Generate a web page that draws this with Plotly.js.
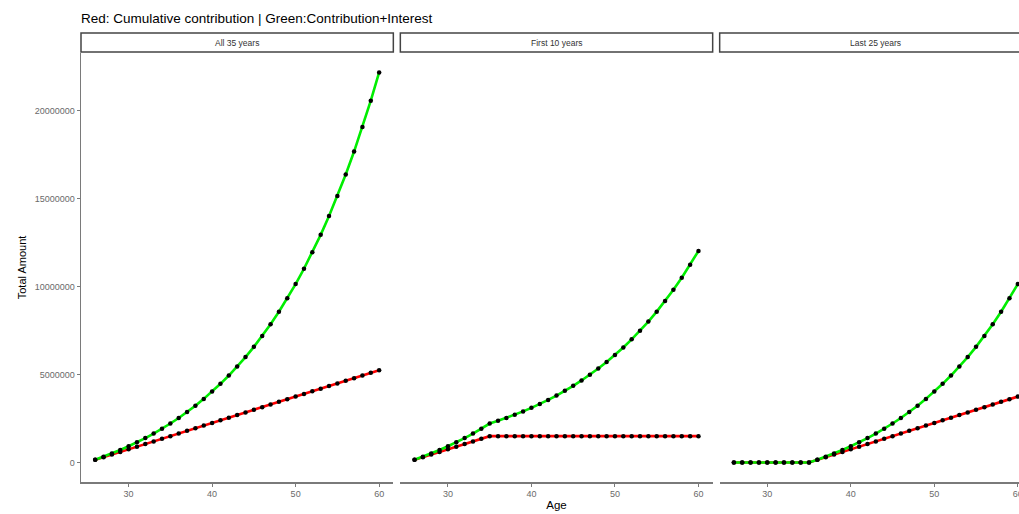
<!DOCTYPE html>
<html>
<head>
<meta charset="utf-8">
<script src="https://cdn.plot.ly/plotly-3.0.1.min.js"></script>
<style>
html, body { margin:0; padding:0; overflow:hidden; background:#fff; }
#chart { width:1040px; height:514px; }
</style>
</head>
<body>
<div id="chart"></div>
<script>
const ages = [26,27,28,29,30,31,32,33,34,35,36,37,38,39,40,41,42,43,44,45,46,47,48,49,50,51,52,53,54,55,56,57,58,59,60];
const facetLabels = ["All 35 years", "First 10 years", "Last 25 years"];

const redAll = [150000,300000,450000,600000,750000,900000,1050000,1200000,1350000,1500000,1650000,1800000,1950000,2100000,2250000,2400000,2550000,2700000,2850000,3000000,3150000,3300000,3450000,3600000,3750000,3900000,4050000,4200000,4350000,4500000,4650000,4800000,4950000,5100000,5250000];
const greenAll = [160500,332235,515992,712611,922994,1148102,1388969,1646698,1922467,2217539,2533268,2871097,3232573,3619353,4033209,4476033,4949855,5456844,5999325,6579775,7200860,7865422,8576500,9337356,10151472,11022575,11954655,12951979,14019118,15160956,16382723,17690014,19088816,20585532,22187017];

const redFirst10 = [150000,300000,450000,600000,750000,900000,1050000,1200000,1350000,1500000,1500000,1500000,1500000,1500000,1500000,1500000,1500000,1500000,1500000,1500000,1500000,1500000,1500000,1500000,1500000,1500000,1500000,1500000,1500000,1500000,1500000,1500000,1500000,1500000,1500000];
const greenFirst10 = [160500,332235,515992,712611,922994,1148102,1388969,1646698,1922467,2217539,2372767,2538860,2716581,2906741,3110214,3327928,3560882,3810144,4076854,4362234,4667592,4994324,5343926,5718000,6118261,6546539,7004795,7495131,8019792,8581175,9181857,9824589,10512310,11248172,12035544];

const redLast25 = [0,0,0,0,0,0,0,0,0,0,150000,300000,450000,600000,750000,900000,1050000,1200000,1350000,1500000,1650000,1800000,1950000,2100000,2250000,2400000,2550000,2700000,2850000,3000000,3150000,3300000,3450000,3600000,3750000];
const greenLast25 = [0,0,0,0,0,0,0,0,0,0,160500,332235,515992,712611,922994,1148102,1388969,1646698,1922467,2217539,2533268,2871097,3232573,3619353,4033209,4476033,4949855,5456844,5999325,6579775,7200860,7865422,8576500,9337356,10151472];

const yTicks = [0,5000000,10000000,15000000,20000000];
const xTicks = [30,40,50,60];

const facets = [
  {red: redAll, green: greenAll},
  {red: redFirst10, green: greenFirst10},
  {red: redLast25, green: greenLast25}
];

const plotW = 951, gap = 7;
const pw = (plotW - 2*gap)/3;
const domains = [0,1,2].map(i => [(i*(pw+gap))/plotW, (i*(pw+gap)+pw)/plotW]);
const panelH = 429, stripH = 20;

const traces = [];
facets.forEach((f, i) => {
  const xa = i === 0 ? 'x' : 'x' + (i+1);
  const ya = i === 0 ? 'y' : 'y' + (i+1);
  traces.push({x: ages, y: f.red, xaxis: xa, yaxis: ya, mode: 'lines', type: 'scatter',
    line: {color: '#ff0000', width: 2.6}, hoverinfo: 'skip', showlegend: false});
  traces.push({x: ages, y: f.green, xaxis: xa, yaxis: ya, mode: 'lines', type: 'scatter',
    line: {color: '#00ee00', width: 2.6}, hoverinfo: 'skip', showlegend: false});
});
facets.forEach((f, i) => {
  const xa = i === 0 ? 'x' : 'x' + (i+1);
  const ya = i === 0 ? 'y' : 'y' + (i+1);
  traces.push({x: ages, y: f.red, xaxis: xa, yaxis: ya, mode: 'markers', type: 'scatter',
    marker: {color: '#000', size: 4.5}, hoverinfo: 'skip', showlegend: false});
  traces.push({x: ages, y: f.green, xaxis: xa, yaxis: ya, mode: 'markers', type: 'scatter',
    marker: {color: '#000', size: 4.5}, hoverinfo: 'skip', showlegend: false});
});

const axisColor = '#7a7a7a';
const tickFont = {family: 'Liberation Sans, Arial, sans-serif', size: 9, color: '#6a6a6a'};
const yRange = [-1109000, 23296000];
const xRange = [24.3, 61.7];

const layout = {
  width: 1040, height: 514,
  margin: {l: 81, r: 8, t: 53, b: 32},
  paper_bgcolor: '#fff', plot_bgcolor: '#fff',
  font: {family: 'Liberation Sans, Arial, sans-serif'},
  title: {text: 'Red: Cumulative contribution | Green:Contribution+Interest',
    x: 0, xref: 'paper', xanchor: 'left', y: 1 - 18/514, yref: 'container', yanchor: 'middle',
    font: {size: 13.5, color: '#000', family: 'Liberation Sans, Arial, sans-serif'}},
  shapes: [], annotations: []
};

[0,1,2].forEach(i => {
  const xk = i === 0 ? 'xaxis' : 'xaxis' + (i+1);
  const yk = i === 0 ? 'yaxis' : 'yaxis' + (i+1);
  layout[xk] = {
    domain: domains[i], anchor: i === 0 ? 'y' : 'y' + (i+1), range: xRange,
    tickvals: xTicks, ticktext: xTicks.map(String), ticks: 'outside', ticklen: 3, tickcolor: axisColor,
    showline: true, linecolor: axisColor, linewidth: 1.5, showgrid: false, zeroline: false,
    tickfont: tickFont, fixedrange: true
  };
  if (i === 1) {
    layout[xk].title = {text: 'Age', font: {size: 11.5, color: '#000'}, standoff: 2};
  }
  layout[yk] = {
    domain: [0, 1], anchor: i === 0 ? 'x' : 'x' + (i+1), range: yRange,
    showgrid: false, zeroline: false, fixedrange: true
  };
  if (i === 0) {
    Object.assign(layout[yk], {
      tickvals: yTicks, ticktext: yTicks.map(String), ticks: 'outside', ticklen: 3, tickcolor: axisColor,
      showline: true, linecolor: axisColor, linewidth: 1.5, tickfont: tickFont,
      title: {text: 'Total Amount', font: {size: 11, color: '#000'}, standoff: 6}
    });
  } else {
    Object.assign(layout[yk], {matches: 'y', showline: false, showticklabels: false, ticks: ''});
  }
  layout.shapes.push({type: 'rect', xref: 'paper', yref: 'paper',
    x0: domains[i][0], x1: domains[i][1], y0: 1 + 1/panelH, y1: 1 + stripH/panelH,
    line: {color: '#444', width: 1.5}, fillcolor: '#fff'});
  layout.annotations.push({xref: 'paper', yref: 'paper', x: (domains[i][0]+domains[i][1])/2,
    y: 1 + (stripH/2 + 0.5)/panelH, yanchor: 'middle', xanchor: 'center', showarrow: false,
    text: facetLabels[i], font: {size: 8.5, color: '#333'}});
});

Plotly.newPlot('chart', traces, layout, {staticPlot: true, displayModeBar: false});
</script>
</body>
</html>
